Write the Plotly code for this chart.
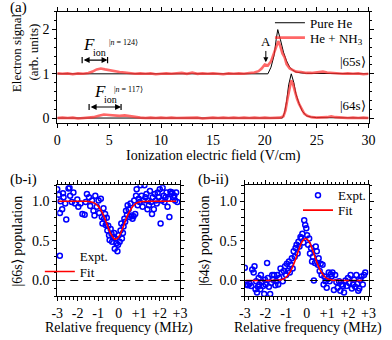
import plotly.graph_objects as go

# ---------------- (a) electron signal vs ionization field ----------------
he65_x = [0, 20.3, 20.6, 20.9, 21.1, 21.25, 21.5, 21.8, 22.1, 22.4, 22.7, 23.0, 23.5, 24, 30]
he65_y = [1.0, 1.0, 1.15, 1.42, 1.78, 2.0, 1.78, 1.49, 1.29, 1.15, 1.08, 1.04, 1.02, 1.01, 1.0]

nh65_x = [0, 0.5, 1, 1.5, 2, 2.5, 3, 3.4, 3.8, 4.2,
          4.6, 5, 5.5, 6, 6.5, 7, 7.5, 8, 8.5, 9,
          9.5, 10, 10.5, 11, 11.5, 12, 12.5, 13, 13.5, 14,
          14.5, 15, 15.5, 16, 16.5, 17, 17.5, 18, 18.5, 19,
          19.4, 19.7, 20.0, 20.3, 20.6, 20.9, 21.1, 21.3, 21.5, 21.7,
          21.9, 22.1, 22.4, 22.7, 23.0, 23.5, 24, 24.5, 25, 25.6,
          26, 26.5, 27, 27.5, 28, 28.5, 29, 29.5, 30]
nh65_y = [1.01, 1.00, 1.01, 0.99, 1.01, 1.00, 1.02, 1.05, 1.10, 1.12,
          1.10, 1.08, 1.06, 1.04, 1.03, 1.02, 1.00, 1.01, 1.00, 1.01,
          0.99, 1.00, 1.01, 1.00, 1.01, 1.02, 1.00, 1.03, 1.00, 1.01,
          1.00, 1.01, 1.00, 0.99, 1.01, 1.00, 1.01, 1.00, 1.02, 1.03,
          1.06, 1.12, 1.21, 1.19, 1.28, 1.48, 1.64, 1.74, 1.62, 1.46,
          1.38, 1.22, 1.12, 1.08, 1.05, 1.04, 1.02, 1.02, 1.03, 1.05,
          1.03, 1.02, 1.01, 1.00, 1.01, 1.00, 1.01, 0.99, 1.00]

he64_x = [0, 21.7, 21.9, 22.1, 22.3, 22.55, 22.8, 23.0, 23.3, 23.6, 24.0, 24.5, 25, 30]
he64_y = [0.0, 0.0, 0.12, 0.38, 0.75, 1.0, 0.8, 0.55, 0.33, 0.16, 0.05, 0.02, 0.01, 0.0]

nh64_x = [0, 0.5, 1, 1.5, 2, 2.5, 3, 3.5, 4, 4.5,
          5, 5.5, 6, 6.5, 7, 7.5, 8, 8.5, 9, 9.5,
          10, 10.5, 11, 11.5, 12, 12.5, 13, 13.5, 14, 14.5,
          15, 15.5, 16, 16.5, 17, 17.5, 18, 18.5, 19, 19.5,
          20, 20.5, 21, 21.5, 21.8, 22.0, 22.2, 22.4, 22.55, 22.7,
          22.9, 23.1, 23.3, 23.5, 23.8, 24.1, 24.5, 25, 25.5, 26,
          26.4, 26.8, 27.5, 28, 28.5, 29, 29.5, 30]
nh64_y = [0.00, 0.01, 0.00, 0.01, -0.01, 0.00, 0.01, 0.02, 0.05, 0.08,
          0.07, 0.06, 0.05, 0.06, 0.04, 0.02, 0.01, 0.00, 0.01, 0.00,
          0.01, 0.00, 0.01, 0.00, 0.00, 0.01, 0.00, 0.01, -0.01, 0.00,
          0.01, 0.00, 0.01, 0.00, 0.01, 0.00, 0.01, 0.00, 0.01, 0.00,
          0.01, 0.00, 0.01, 0.01, 0.04, 0.18, 0.45, 0.72, 0.85, 0.78,
          0.58, 0.44, 0.32, 0.22, 0.10, 0.05, 0.02, 0.01, 0.01, 0.02,
          0.04, 0.02, 0.01, 0.00, 0.01, 0.00, 0.01, 0.00]

a_xticks = [0, 5, 10, 15, 20, 25, 30]
a_yticks = [0, 1, 2]

# F_ion range markers (field values) and the "A" feature
fion65 = [2.4, 4.85, 1.31]
fion64 = [3.07, 6.15, 0.25]
feature_A = [20.1, 1.26, 1.72]

# ---------------- (b-i) |66s> population ----------------
b1_freq = [-3.00, -2.92, -2.87, -2.84, -2.76, -2.72, -2.69, -2.61, -2.56, -2.45,
           -2.40, -2.37, -2.29, -2.21, -2.13, -2.02, -1.97, -1.86, -1.77, -1.66,
           -1.61, -1.55, -1.45, -1.39, -1.30, -1.23, -1.18, -1.14, -1.07, -0.98,
           -0.95, -0.87, -0.82, -0.79, -0.74, -0.71, -0.66, -0.63, -0.58, -0.55,
           -0.51, -0.47, -0.44, -0.39, -0.35, -0.32, -0.27, -0.22, -0.19, -0.16,
           -0.11, -0.06, -0.03, 0.00, 0.05, 0.09, 0.13, 0.16, 0.21, 0.24,
           0.28, 0.32, 0.36, 0.41, 0.44, 0.49, 0.54, 0.58, 0.63, 0.68,
           0.73, 0.76, 0.81, 0.85, 0.88, 0.93, 0.98, 1.03, 1.07, 1.12,
           1.17, 1.22, 1.26, 1.31, 1.36, 1.41, 1.44, 1.48, 1.53, 1.58,
           1.63, 1.67, 1.72, 1.77, 1.82, 1.86, 1.91, 1.96, 2.01, 2.05,
           2.10, 2.15, 2.20, 2.24, 2.29, 2.34, 2.39, 2.43, 2.48, 2.53,
           2.57, 2.62, 2.67, 2.72, 2.76, 2.81, 2.87]
b1_pop = [1.15, 1.08, 0.85, 1.00, 0.90, 1.10, 1.05, 0.97, 0.77, 1.16,
          1.17, 1.07, 0.99, 1.11, 0.97, 1.02, 0.93, 0.97, 0.84, 0.83,
          0.99, 1.09, 1.05, 0.94, 1.01, 0.88, 0.82, 1.07, 0.93, 1.01,
          0.85, 1.03, 0.80, 0.72, 0.91, 0.78, 0.84, 0.70, 0.79, 0.63,
          0.69, 0.57, 0.51, 0.65, 0.59, 0.49, 0.55, 0.60, 0.40, 0.53,
          0.47, 0.37, 0.45, 0.57, 0.49, 0.63, 0.72, 0.53, 0.60, 0.68,
          0.78, 0.74, 0.88, 0.83, 0.95, 0.90, 0.80, 0.97, 0.82, 0.78,
          0.81, 1.01, 0.84, 1.07, 1.15, 0.95, 1.03, 0.99, 1.20, 1.07,
          0.93, 1.01, 1.20, 1.05, 1.09, 0.90, 1.01, 0.95, 1.13, 0.99,
          0.84, 1.05, 0.90, 1.09, 1.01, 0.97, 1.11, 1.05, 1.15, 0.72,
          1.01, 1.17, 1.07, 0.99, 1.05, 1.11, 0.93, 1.03, 0.80, 1.12,
          1.09, 1.11, 1.05, 1.07, 1.01, 1.11, 0.99]
b1_fit_freq = [-2.95, -2.0, -1.6, -1.4, -1.2, -1.0, -0.8, -0.6, -0.4, -0.2,
               -0.15, 0.0, 0.2, 0.4, 0.6, 0.8, 1.0, 1.2, 1.6, 2.0, 2.8]
b1_fit_pop = [1.0, 1.0, 0.999, 0.994, 0.979, 0.938, 0.855, 0.73, 0.598, 0.523,
              0.52, 0.55, 0.66, 0.80, 0.90, 0.963, 0.989, 0.997, 1.0, 1.0, 1.0]

# ---------------- (b-ii) |64s> population ----------------
b2_freq = [-3.00, -2.92, -2.85, -2.77, -2.69, -2.64, -2.57, -2.53, -2.48, -2.45,
           -2.41, -2.36, -2.33, -2.30, -2.25, -2.22, -2.17, -2.11, -2.06, -2.02,
           -1.99, -1.92, -1.88, -1.83, -1.77, -1.72, -1.67, -1.63, -1.58, -1.52,
           -1.47, -1.43, -1.38, -1.33, -1.27, -1.21, -1.16, -1.11, -1.05, -1.00,
           -0.96, -0.91, -0.86, -0.82, -0.77, -0.72, -0.68, -0.63, -0.58, -0.54,
           -0.49, -0.44, -0.40, -0.35, -0.30, -0.26, -0.21, -0.16, -0.12, -0.07,
           -0.02, 0.02, 0.07, 0.12, 0.16, 0.21, 0.26, 0.30, 0.35, 0.40,
           0.44, 0.49, 0.54, 0.58, 0.63, 0.68, 0.72, 0.77, 0.82, 0.86,
           0.91, 0.97, 1.02, 1.07, 1.11, 1.16, 1.21, 1.25, 1.32, 1.38,
           1.44, 1.50, 1.57, 1.63, 1.69, 1.75, 1.81, 1.88, 1.94, 2.00,
           2.06, 2.13, 2.19, 2.25, 2.30, 2.35, 2.41, 2.45, 2.50, 2.55,
           2.60, 2.66, 2.72, 2.78, 2.84]
b2_pop = [0.16, -0.05, -0.06, -0.04, -0.07, 0.14, 0.10, 0.18, -0.11, -0.01,
          -0.15, -0.08, 0.03, -0.05, -0.11, 0.07, -0.02, -0.07, -0.17, 0.01,
          -0.05, 0.22, 0.03, -0.08, -0.17, -0.03, 0.07, 0.01, 0.07, -0.06,
          -0.01, 0.07, -0.05, 0.03, 0.15, 0.10, -0.01, 0.12, 0.18, 0.07,
          0.21, 0.12, 0.24, 0.10, 0.20, 0.28, 0.15, 0.37, 0.30, 0.41,
          0.45, 0.34, 0.49, 0.43, 0.55, 0.53, 0.59, 0.48, 0.76, 0.70,
          0.66, 0.57, 0.45, 0.53, 0.34, 0.41, 0.24, 0.30, 0.00, 0.22,
          0.43, 0.37, 0.20, 0.28, 0.12, 0.21, 0.07, 0.20, -0.05, 0.05,
          -0.01, -0.09, 0.02, 0.10, -0.01, 0.08, 0.05, 0.10, -0.12, 0.07,
          -0.02, -0.09, -0.01, -0.13, -0.05, -0.07, -0.15, 0.00, -0.07, 0.03,
          -0.03, 0.07, -0.10, -0.05, 0.01, -0.08, 0.07, -0.04, -0.13, -0.10,
          0.01, 0.05, -0.05, 0.07, 0.10]
b2_fit_freq = [-2.95, -2.0, -1.6, -1.4, -1.2, -1.0, -0.8, -0.6, -0.4, -0.2,
               -0.05, 0.1, 0.3, 0.5, 0.7, 0.9, 1.1, 1.3, 1.5, 2.0, 2.7]
b2_fit_pop = [0.0, 0.0, 0.001, 0.003, 0.012, 0.041, 0.108, 0.225, 0.375, 0.497,
              0.53, 0.497, 0.375, 0.225, 0.108, 0.041, 0.012, 0.003, 0.001, 0.0, 0.0]

b_xticks = [-3, -2, -1, 0, 1, 2, 3]
b_xticktext = ["-3", "-2", "-1", "0", "+1", "+2", "+3"]
b_yticks = [0, 0.5, 1.0]
b_yticktext = ["0.0", "0.5", "1.0"]

assert len(nh65_x) == len(nh65_y) and len(nh64_x) == len(nh64_y)
assert len(b1_freq) == len(b1_pop) and len(b2_freq) == len(b2_pop)

W, H = 392, 340
def px(x):
    return x / W
def py(y):
    return 1 - y / H

RED = "rgba(255,45,45,0.72)"
FONT = "Liberation Serif"

fig = go.Figure()
fig.add_trace(go.Scatter(x=he65_x, y=he65_y, mode="lines", line=dict(color="black", width=1),
                         name="Pure He", xaxis="x", yaxis="y", legend="legend"))
fig.add_trace(go.Scatter(x=nh65_x, y=nh65_y, mode="lines", line=dict(color=RED, width=2.6),
                         name="He + NH<sub>3</sub>", xaxis="x", yaxis="y", legend="legend2"))
fig.add_trace(go.Scatter(x=he64_x, y=he64_y, mode="lines", line=dict(color="black", width=1),
                         showlegend=False, xaxis="x", yaxis="y"))
fig.add_trace(go.Scatter(x=nh64_x, y=nh64_y, mode="lines", line=dict(color=RED, width=2.6),
                         showlegend=False, xaxis="x", yaxis="y"))

mk = dict(symbol="circle-open", color="#0000ff", size=5, line=dict(width=1.5, color="#0000ff"))
fig.add_trace(go.Scatter(x=b1_freq, y=b1_pop, mode="markers", marker=mk, name="Expt.",
                         xaxis="x2", yaxis="y2", legend="legend3"))
fig.add_trace(go.Scatter(x=b1_fit_freq, y=b1_fit_pop, mode="lines",
                         line=dict(color="red", width=1.6, shape="spline"), name="Fit",
                         xaxis="x2", yaxis="y2", legend="legend4"))
fig.add_trace(go.Scatter(x=b2_freq, y=b2_pop, mode="markers", marker=mk, name="Expt.",
                         xaxis="x3", yaxis="y3", legend="legend5"))
fig.add_trace(go.Scatter(x=b2_fit_freq, y=b2_fit_pop, mode="lines",
                         line=dict(color="red", width=1.6, shape="spline"), name="Fit",
                         xaxis="x3", yaxis="y3", legend="legend6"))

common = dict(showline=True, linecolor="black", linewidth=1, mirror="ticks", ticks="outside",
              ticklen=4, tickwidth=1, tickcolor="black", showgrid=False, zeroline=False,
              tickfont=dict(size=14, color="black", family=FONT))
def minor(d):
    return dict(dtick=d, tick0=0, ticklen=2.5, ticks="outside", tickcolor="black")

def leg(x_left, y_mid, size=13):
    return dict(x=px(x_left), y=py(y_mid), xanchor="left", yanchor="middle",
                bgcolor="rgba(0,0,0,0)", font=dict(size=size, family=FONT), itemwidth=30)

fig.update_layout(
    width=W, height=H, margin=dict(l=0, r=0, t=0, b=0),
    paper_bgcolor="white", plot_bgcolor="white",
    font=dict(family=FONT, size=14, color="black"),
    xaxis=dict(common, domain=[px(53), px(375)], range=[0, 30], tickvals=a_xticks, anchor="y",
               minor=minor(1)),
    yaxis=dict(common, domain=[py(124), py(12)], range=[-0.11, 2.4], tickvals=a_yticks, anchor="x",
               minor=minor(0.2)),
    xaxis2=dict(common, domain=[px(53), px(180)], range=[-3, 3], tickvals=b_xticks,
                ticktext=b_xticktext, anchor="y2", minor=minor(0.2)),
    yaxis2=dict(common, domain=[py(299), py(187)], range=[-0.2, 1.2], tickvals=b_yticks,
                ticktext=b_yticktext, anchor="x2", minor=minor(0.1)),
    xaxis3=dict(common, domain=[px(247), px(375)], range=[-3, 3], tickvals=b_xticks,
                ticktext=b_xticktext, anchor="y3", minor=minor(0.2)),
    yaxis3=dict(common, domain=[py(299), py(187)], range=[-0.2, 1.2], tickvals=b_yticks,
                ticktext=b_yticktext, anchor="x3", minor=minor(0.1)),
    legend=leg(273, 23),
    legend2=leg(273, 38),
    legend3=leg(35, 258),
    legend4=leg(35, 274),
    legend5=leg(302, 197),
    legend6=leg(302, 212),
)

shapes = []
for xr, yr in (("x2", "y2"), ("x3", "y3")):
    shapes.append(dict(type="line", xref=f"{xr} domain", yref=yr, x0=0, x1=1, y0=0, y1=0,
                       line=dict(color="black", width=1.2, dash="8px,5px")))
for f in (fion65, fion64):
    for xv in f[:2]:
        shapes.append(dict(type="line", xref="x", yref="y", x0=xv, x1=xv, y0=f[2] - 0.07,
                           y1=f[2] + 0.07, line=dict(color="black", width=1.2)))
fig.update_layout(shapes=shapes)

ann = []
def txt(x, y, t, size=14, angle=0, xa="center", ya="middle"):
    ann.append(dict(x=px(x), y=py(y), xref="paper", yref="paper", text=t, showarrow=False,
                    font=dict(size=size, family=FONT, color="black"), textangle=angle,
                    xanchor=xa, yanchor=ya))

txt(2, 8, "(a)", 15, xa="left")
txt(2, 181, "(b-i)", 15, xa="left")
txt(196, 181, "(b-ii)", 15, xa="left")
txt(11, 53, "Electron signal", 13, -90)
txt(28, 53, "(arb. units)", 13, -90)
txt(215, 157, "Ionization electric field (V/cm)", 14)
txt(12, 243, "|66s⟩ population", 14, -90)
txt(206, 243, "|64s⟩ population", 14, -90)
txt(117, 331, "Relative frequency (MHz)", 14)
txt(312, 331, "Relative frequency (MHz)", 14)
txt(359, 62, "|65s⟩", 13)
txt(359, 106, "|64s⟩", 13)
# F_ion labels
txt(86, 45, "<i>F</i>", 17)
txt(97, 53, "ion", 10)
txt(122, 43, "|<i>n</i> = 124⟩", 8)
txt(97, 92, "<i>F</i>", 17)
txt(108, 100, "ion", 10)
txt(127, 90, "|<i>n</i> = 117⟩", 8)

for f in (fion65, fion64):
    ann.append(dict(x=f[1], y=f[2], ax=f[0], ay=f[2], xref="x", yref="y", axref="x", ayref="y",
                    text="", showarrow=True, arrowhead=2, arrowside="end+start", arrowsize=1,
                    arrowwidth=1.2, arrowcolor="black"))
ann.append(dict(x=feature_A[0], y=feature_A[1], ax=feature_A[0], ay=feature_A[2], xref="x", yref="y",
                axref="x", ayref="y", text="A", showarrow=True, arrowhead=2, arrowsize=1,
                arrowwidth=1, arrowcolor="black", font=dict(size=13, family=FONT, color="black")))
fig.update_layout(annotations=ann)

fig.write_html("out.html", config={"displayModeBar": False},
               post_script="document.body.style.margin='0px';")
